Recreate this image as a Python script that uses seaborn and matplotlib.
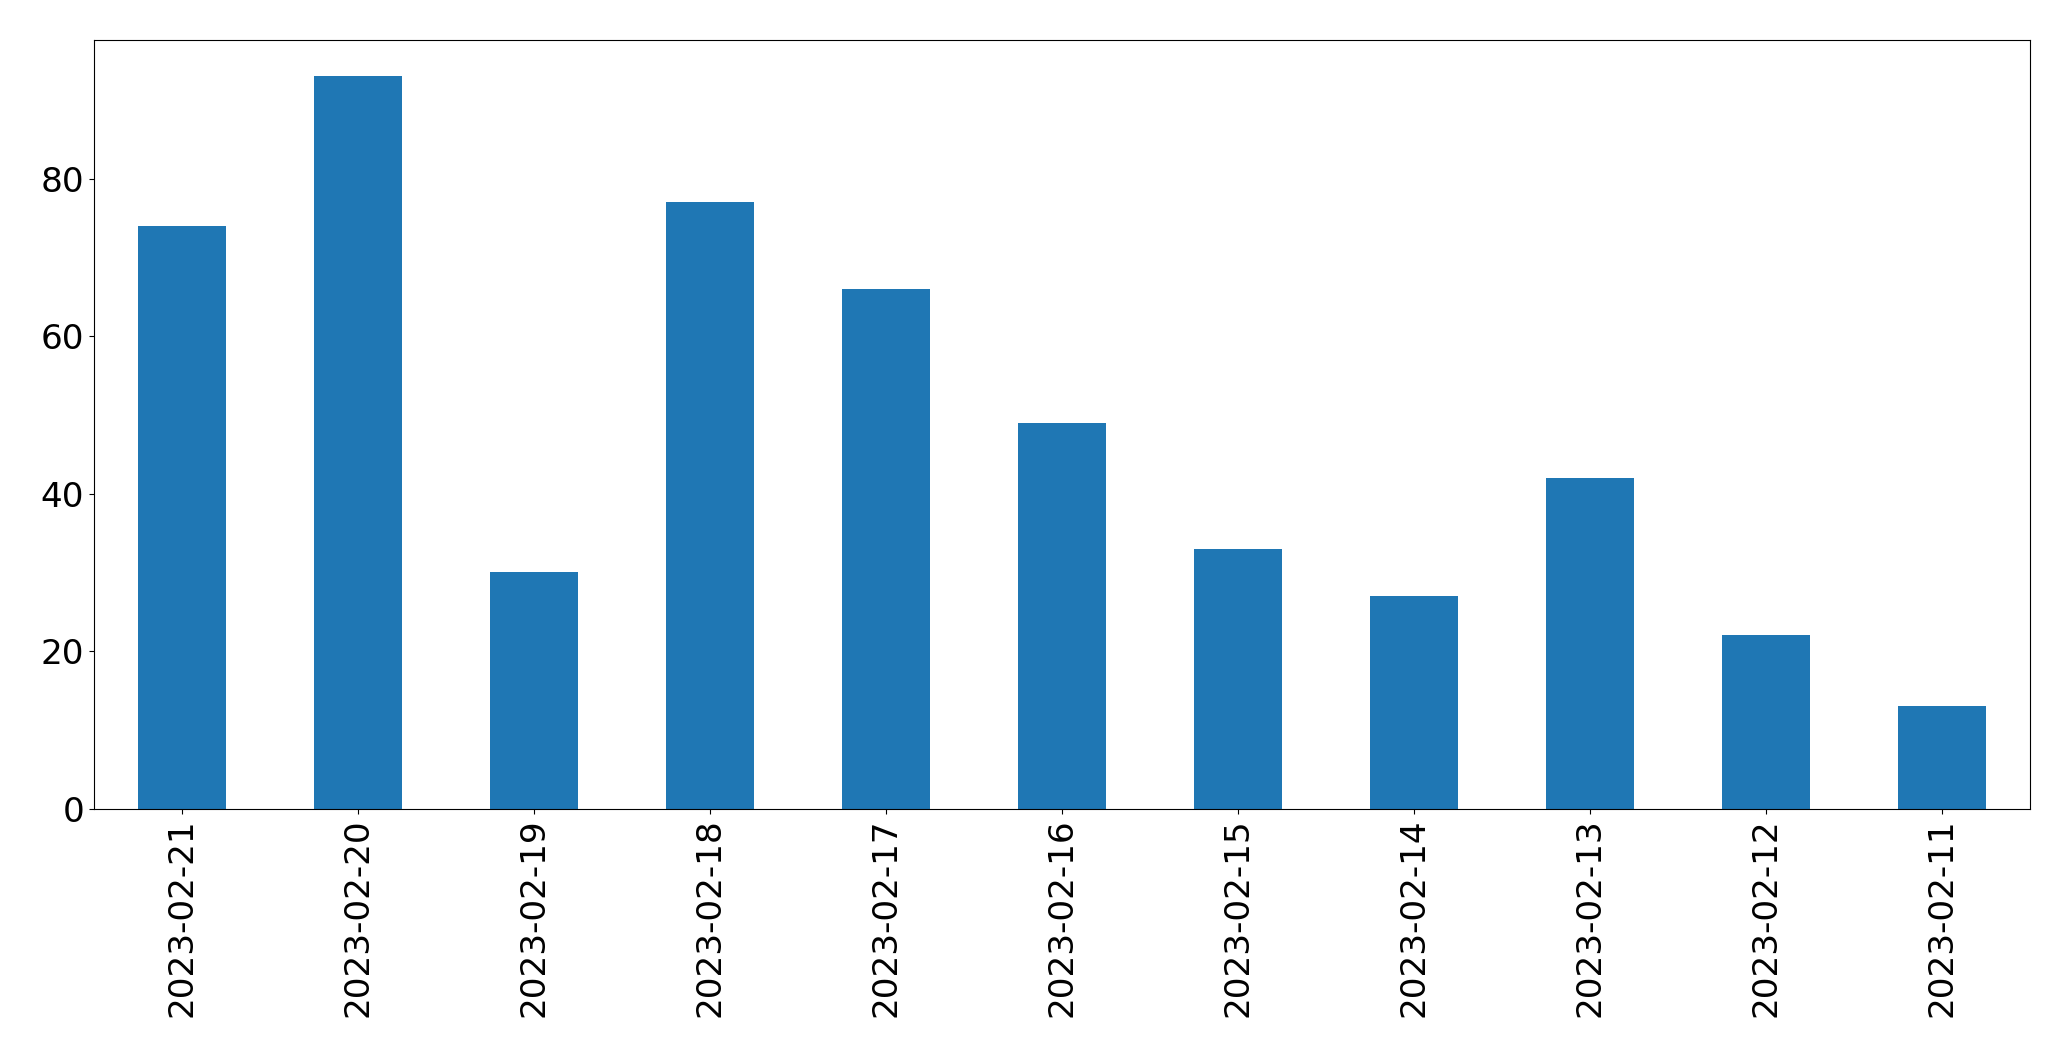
import matplotlib
matplotlib.use("Agg")
import matplotlib.pyplot as plt
import seaborn as sns
import pandas as pd

dates = ["2023-02-21", "2023-02-20", "2023-02-19", "2023-02-18", "2023-02-17",
         "2023-02-16", "2023-02-15", "2023-02-14", "2023-02-13", "2023-02-12",
         "2023-02-11"]
counts = [74, 93, 30, 77, 66, 49, 33, 27, 42, 22, 13]

df = pd.DataFrame({"date": dates, "count": counts})

fig = plt.figure(figsize=(20.71, 10.61), dpi=100)
ax = fig.add_axes([0.0453, 0.2379, 0.9349, 0.7248])
sns.barplot(data=df, x="date", y="count", order=dates, color="#1f77b4",
            saturation=1, width=0.5, ax=ax)
ax.set_xlim(-0.5, len(dates) - 0.5)
ax.set_ylim(0, max(counts) * 1.05)
ax.set_xlabel("")
ax.set_ylabel("")
ax.tick_params(axis="both", labelsize=24.7)
ax.tick_params(axis="x", labelrotation=90)
for s in ax.spines.values():
    s.set_visible(True)
    s.set_color("black")
fig.savefig("out.png", dpi=100)
